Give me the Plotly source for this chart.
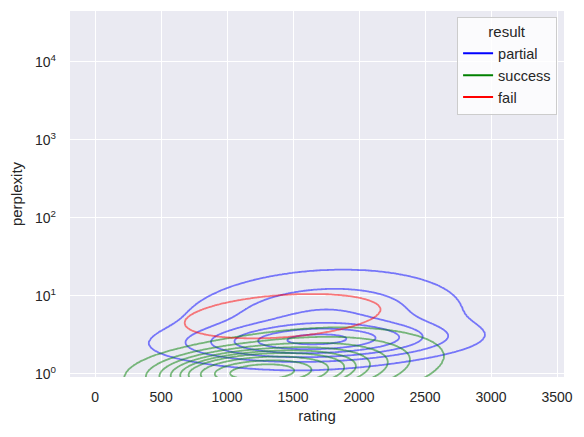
import numpy as np
import plotly.graph_objects as go

# ---- data (KDE of rating vs log10 perplexity) ----
groups = ["partial", "success", "fail"]
group_colors = ["blue", "green", "red"]
group_share = [0.34, 0.62, 0.04]          # share of observations per result

# Gaussian components describing each group's density (x = rating, u = log10 perplexity)
partial_mx = [1680, 1720]
partial_mu = [0.43, 0.71]
partial_sx = [500, 540]
partial_su = [0.13, 0.32]
partial_w = [0.5, 0.5]
partial_rho = [0.15, 0.15]

success_mx = [1220, 1540]
success_mu = [0.02, 0.07]
success_sx = [340, 460]
success_su = [0.14, 0.22]
success_w = [0.6, 0.4]
success_rho = [0.15, 0.3]

fail_mx = [1420]
fail_mu = [0.74]
fail_sx = [520]
fail_su = [0.20]
fail_w = [1.0]
fail_rho = [0.3]

x_ticks = [0, 500, 1000, 1500, 2000, 2500, 3000, 3500]
y_ticks = [0, 1, 2, 3, 4]          # log10(perplexity)
y_tick_text = ["10<sup>0</sup>", "10<sup>1</sup>", "10<sup>2</sup>", "10<sup>3</sup>", "10<sup>4</sup>"]
iso_props = np.linspace(0.05, 1, 10)[:-1]

comps = {
    "partial": (partial_mx, partial_mu, partial_sx, partial_su, partial_w, partial_rho),
    "success": (success_mx, success_mu, success_sx, success_su, success_w, success_rho),
    "fail": (fail_mx, fail_mu, fail_sx, fail_su, fail_w, fail_rho),
}

# ---- density evaluation on a grid ----
gx = np.linspace(-1500, 5000, 420)
gu = np.linspace(-1.6, 3.4, 520)
X, U = np.meshgrid(gx, gu)


def mixture(mx, mu, sx, su, w, rho):
    d = np.zeros_like(X)
    for a, b, s1, s2, ww, r in zip(mx, mu, sx, su, w, rho):
        zx = (X - a) / s1
        zu = (U - b) / s2
        q = (zx ** 2 - 2 * r * zx * zu + zu ** 2) / (1 - r ** 2)
        d += ww * np.exp(-0.5 * q) / (2 * np.pi * s1 * s2 * np.sqrt(1 - r ** 2))
    return d


dens = {g: share * mixture(*comps[g]) for g, share in zip(groups, group_share)}

# common levels (pooled highest-density-region quantiles, as seaborn does with common_norm)
vals = np.concatenate([d.ravel() for d in dens.values()])
sv = np.sort(vals)[::-1]
cum = np.cumsum(sv) / vals.sum()
levels = np.sort(np.take(sv, np.searchsorted(cum, 1 - iso_props), mode="clip"))
n = len(levels)
big = vals.max() * 10
xp = np.concatenate([[0.0], levels, [big]])
fp = np.concatenate([[0.0], np.arange(1, n + 1), [n + (big - levels[-1]) / (levels[-1] - levels[-2])]])

fig = go.Figure()
rgba = {"blue": "rgba(0,0,255,0.5)", "green": "rgba(0,128,0,0.5)", "red": "rgba(255,0,0,0.5)"}
for g, c in zip(groups, group_colors):
    z = np.interp(dens[g], xp, fp)
    fig.add_trace(go.Contour(
        x=gx, y=gu, z=z,
        contours=dict(start=1, end=n, size=1, coloring="none"),
        line=dict(color=rgba[c], width=1.8, smoothing=1),
        showscale=False, showlegend=False, hoverinfo="skip",
    ))
for g, c in zip(groups, group_colors):
    fig.add_trace(go.Scatter(x=[None], y=[None], mode="lines", name=g,
                             line=dict(color=c, width=2)))

font = "Liberation Sans, Arial, sans-serif"
fig.update_layout(
    width=584, height=437,
    margin=dict(l=70, r=20, t=11, b=60),
    paper_bgcolor="white", plot_bgcolor="#EAEAF2",
    font=dict(family=font, color="#262626", size=14),
    xaxis=dict(range=[-190, 3553], tickvals=x_ticks, showgrid=True, gridcolor="white",
               gridwidth=1.3, zeroline=False, showline=False, ticks="",
               ticklabelstandoff=10,
               title=dict(text="rating", font=dict(size=15), standoff=6),
               tickfont=dict(size=14)),
    yaxis=dict(range=[-0.04, 4.654], tickvals=y_ticks, ticktext=y_tick_text,
               showgrid=True, gridcolor="white", gridwidth=1.3, zeroline=False,
               showline=False, ticks="", ticklabelstandoff=13,
               title=dict(text="perplexity", font=dict(size=15), standoff=8),
               tickfont=dict(size=14)),
    legend=dict(x=0.986, y=0.984, xanchor="right", yanchor="top",
                bgcolor="rgba(255,255,255,0.8)", bordercolor="#CCCCCC", borderwidth=1,
                font=dict(size=14.5), title=dict(text="result", side="top center", font=dict(size=15)),
                itemwidth=30, tracegroupgap=0),
)
fig.write_html("out.html")
